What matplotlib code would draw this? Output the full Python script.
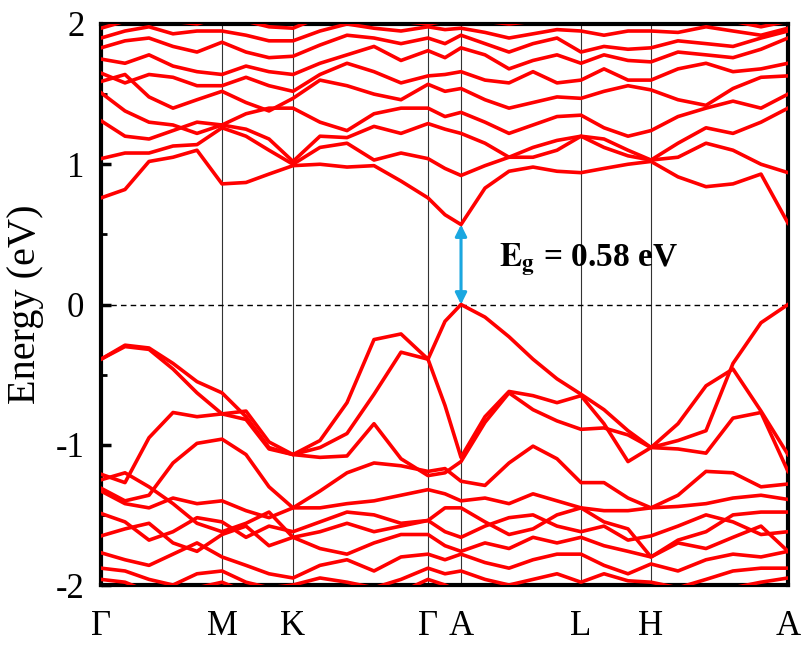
import numpy as np
import matplotlib
matplotlib.use("Agg")
import matplotlib.pyplot as plt
from matplotlib.ticker import MultipleLocator

plt.rcParams['font.family'] = ['Liberation Serif', 'DejaVu Serif']
plt.rcParams['mathtext.fontset'] = 'stix'

# k-path distances (arbitrary units) and high-symmetry points
kdist = [0, 24, 48, 72, 96, 121, 145, 168, 192, 219, 246, 273, 300, 327, 344, 360,
         384, 408, 432, 456, 480, 503, 527, 550, 577, 605, 632, 660, 687]
ksym = [0, 121, 192, 327, 360, 480, 550, 687]
klabels = ['Γ', 'M', 'K', 'Γ', 'A', 'L', 'H', 'A']

# valence bands (eV)
vb1 = [-0.39, -0.29, -0.31, -0.42, -0.55, -0.63, -0.80, -1.02, -1.07, -0.97, -0.70, -0.25, -0.21, -0.39, -0.12, 0.00, -0.09, -0.23, -0.39, -0.53, -0.64, -0.75, -0.90, -1.02, -0.97, -0.90, -0.42, -0.13, 0.00]
vb2 = [-0.39, -0.30, -0.32, -0.46, -0.63, -0.78, -0.76, -0.98, -1.07, -1.02, -0.92, -0.64, -0.34, -0.39, -0.72, -1.09, -0.80, -0.62, -0.65, -0.70, -0.65, -0.85, -1.12, -1.02, -0.85, -0.58, -0.46, -0.76, -1.07]
vb3 = [-1.21, -1.27, -0.95, -0.77, -0.80, -0.78, -0.82, -1.03, -1.07, -1.09, -1.08, -0.85, -1.10, -1.22, -1.20, -1.12, -0.84, -0.63, -0.75, -0.83, -0.89, -0.88, -0.93, -1.02, -1.03, -1.06, -0.81, -0.77, -1.19]
vb4 = [-1.31, -1.40, -1.36, -1.13, -0.99, -0.96, -1.07, -1.30, -1.45, -1.33, -1.20, -1.13, -1.15, -1.19, -1.17, -1.26, -1.29, -1.13, -1.01, -1.10, -1.27, -1.27, -1.38, -1.45, -1.36, -1.19, -1.20, -1.30, -1.28]
vb5 = [-1.33, -1.42, -1.45, -1.38, -1.42, -1.40, -1.47, -1.52, -1.45, -1.45, -1.42, -1.40, -1.36, -1.32, -1.35, -1.40, -1.38, -1.42, -1.35, -1.40, -1.45, -1.47, -1.47, -1.45, -1.44, -1.42, -1.38, -1.36, -1.39]
vb6 = [-1.49, -1.55, -1.68, -1.62, -1.52, -1.55, -1.66, -1.58, -1.62, -1.55, -1.48, -1.50, -1.56, -1.54, -1.62, -1.66, -1.58, -1.52, -1.50, -1.58, -1.62, -1.58, -1.68, -1.65, -1.58, -1.50, -1.55, -1.64, -1.62]
vb7 = [-1.65, -1.60, -1.56, -1.70, -1.76, -1.64, -1.58, -1.72, -1.66, -1.74, -1.78, -1.70, -1.64, -1.64, -1.72, -1.76, -1.70, -1.74, -1.66, -1.70, -1.66, -1.72, -1.76, -1.80, -1.70, -1.74, -1.66, -1.58, -1.76]
vb8 = [-1.77, -1.82, -1.86, -1.78, -1.70, -1.80, -1.86, -1.92, -1.95, -1.86, -1.82, -1.90, -1.80, -1.78, -1.82, -1.78, -1.84, -1.88, -1.82, -1.78, -1.78, -1.86, -1.92, -1.85, -1.90, -1.82, -1.78, -1.80, -1.76]
vb9 = [-1.88, -1.90, -1.96, -2.00, -1.92, -1.90, -1.98, -2.02, -2.00, -1.95, -1.98, -2.02, -1.96, -1.88, -1.92, -1.90, -1.96, -2.00, -1.96, -1.92, -1.98, -1.92, -1.97, -1.98, -2.02, -1.96, -1.90, -1.88, -1.88]
vb10 = [-1.96, -1.98, -2.05, -2.05, -2.02, -1.98, -2.05, -2.10, -2.05, -2.05, -2.10, -2.10, -2.05, -1.96, -2.00, -2.05, -2.05, -2.08, -2.05, -2.10, -2.06, -2.02, -2.05, -2.10, -2.05, -2.08, -2.02, -1.98, -1.95]
vb11 = [-1.25, -1.20, -1.30, -1.42, -1.56, -1.62, -1.56, -1.48, -1.66, -1.62, -1.56, -1.62, -1.58, -1.54, -1.45, -1.45, -1.55, -1.64, -1.60, -1.50, -1.45, -1.55, -1.60, -1.80, -1.68, -1.62, -1.50, -1.48, -1.48]

# conduction bands (eV)
cb1 = [0.76, 0.82, 1.02, 1.05, 1.10, 0.86, 0.87, 0.93, 0.99, 1.00, 0.98, 0.99, 0.88, 0.76, 0.64, 0.57, 0.83, 0.95, 0.98, 0.95, 0.94, 0.97, 1.00, 1.02, 0.91, 0.84, 0.86, 0.93, 0.58]
cb2 = [1.04, 1.08, 1.08, 1.13, 1.14, 1.26, 1.20, 1.10, 1.00, 1.12, 1.15, 1.03, 1.08, 1.04, 0.97, 0.92, 0.99, 1.05, 1.12, 1.17, 1.20, 1.12, 1.06, 1.03, 1.05, 1.15, 1.10, 1.00, 0.94]
cb3 = [1.31, 1.20, 1.18, 1.24, 1.30, 1.28, 1.25, 1.18, 1.02, 1.20, 1.19, 1.27, 1.22, 1.29, 1.25, 1.22, 1.15, 1.05, 1.05, 1.10, 1.20, 1.18, 1.10, 1.03, 1.15, 1.26, 1.22, 1.30, 1.40]
cb4 = [1.51, 1.38, 1.30, 1.28, 1.22, 1.28, 1.36, 1.40, 1.40, 1.30, 1.24, 1.36, 1.40, 1.40, 1.34, 1.37, 1.30, 1.22, 1.28, 1.34, 1.35, 1.26, 1.20, 1.24, 1.34, 1.40, 1.45, 1.40, 1.50]
cb5 = [1.59, 1.64, 1.48, 1.40, 1.46, 1.52, 1.44, 1.38, 1.47, 1.60, 1.56, 1.50, 1.46, 1.57, 1.52, 1.54, 1.46, 1.40, 1.44, 1.48, 1.47, 1.52, 1.56, 1.53, 1.46, 1.42, 1.54, 1.62, 1.63]
cb6 = [1.65, 1.58, 1.64, 1.62, 1.56, 1.56, 1.62, 1.56, 1.52, 1.64, 1.72, 1.66, 1.58, 1.63, 1.64, 1.66, 1.60, 1.58, 1.66, 1.58, 1.60, 1.68, 1.60, 1.60, 1.68, 1.72, 1.66, 1.68, 1.72]
cb7 = [1.75, 1.72, 1.78, 1.70, 1.66, 1.64, 1.70, 1.66, 1.64, 1.72, 1.78, 1.84, 1.74, 1.81, 1.76, 1.83, 1.78, 1.68, 1.74, 1.78, 1.72, 1.78, 1.74, 1.73, 1.80, 1.78, 1.76, 1.82, 1.90]
cb8 = [1.83, 1.88, 1.90, 1.84, 1.80, 1.87, 1.80, 1.76, 1.77, 1.85, 1.92, 1.90, 1.86, 1.90, 1.86, 1.92, 1.86, 1.80, 1.86, 1.90, 1.80, 1.84, 1.82, 1.83, 1.88, 1.86, 1.84, 1.90, 1.95]
cb9 = [1.90, 1.95, 1.98, 1.93, 1.95, 1.95, 1.92, 1.88, 1.88, 1.95, 2.00, 1.97, 1.95, 1.98, 1.96, 1.97, 1.94, 1.90, 1.93, 1.96, 1.95, 1.92, 1.95, 1.95, 1.94, 1.98, 1.95, 1.92, 1.97]
cb10 = [1.97, 2.02, 2.05, 2.02, 2.00, 2.05, 2.02, 1.98, 1.97, 2.05, 2.08, 2.05, 2.02, 2.00, 2.02, 2.05, 2.02, 2.00, 2.02, 2.05, 2.02, 2.02, 2.05, 2.02, 2.02, 2.05, 2.02, 1.98, 2.02]

bands = [vb1, vb2, vb3, vb4, vb5, vb6, vb7, vb8, vb9, vb10, vb11,
         cb1, cb2, cb3, cb4, cb5, cb6, cb7, cb8, cb9, cb10]

vbm_k, vbm_e = 360, 0.00
cbm_e = 0.57
gap_text = r'$\mathbf{E_g}$ = 0.58 eV'

fig = plt.figure(figsize=(8.02, 6.46), dpi=100)
ax = fig.add_axes([101/802, 1-585/646, (788-101)/802, (585-24)/646])

for b in bands:
    ax.plot(kdist, b, color='#ff0000', lw=2.6, solid_joinstyle='round', zorder=3)

for k in ksym[1:-1]:
    ax.axvline(k, color='#333333', lw=0.8, zorder=1)
ax.axhline(0, color='black', lw=1.0, ls=(0, (4, 3)), zorder=2)

ax.annotate('', xy=(vbm_k, cbm_e), xytext=(vbm_k, vbm_e),
            arrowprops=dict(arrowstyle='<|-|>', color='#1aa7e0', lw=2.2,
                            mutation_scale=17, shrinkA=0, shrinkB=0), zorder=5)
ax.text(398, 0.32, gap_text, fontsize=24, fontweight='bold', va='center', ha='left', zorder=6)

ax.set_xlim(ksym[0], ksym[-1])
ax.set_ylim(-2, 2)
ax.set_xticks(ksym)
ax.set_xticklabels(klabels, fontsize=25)
ax.set_yticks([-2, -1, 0, 1, 2])
ax.set_yticklabels(['-2', '-1', '0', '1', '2'], fontsize=25)
ax.yaxis.set_minor_locator(MultipleLocator(0.5))
ax.tick_params(axis='y', which='major', direction='in', length=7, width=2.5, pad=12, right=False)
ax.tick_params(axis='y', which='minor', direction='in', length=4, width=2, right=False)
ax.tick_params(axis='x', which='both', length=0, pad=18)
ax.set_ylabel('Energy (eV)', fontsize=29, labelpad=8)
for s in ax.spines.values():
    s.set_linewidth(3)

fig.savefig('out.png', dpi=100)
